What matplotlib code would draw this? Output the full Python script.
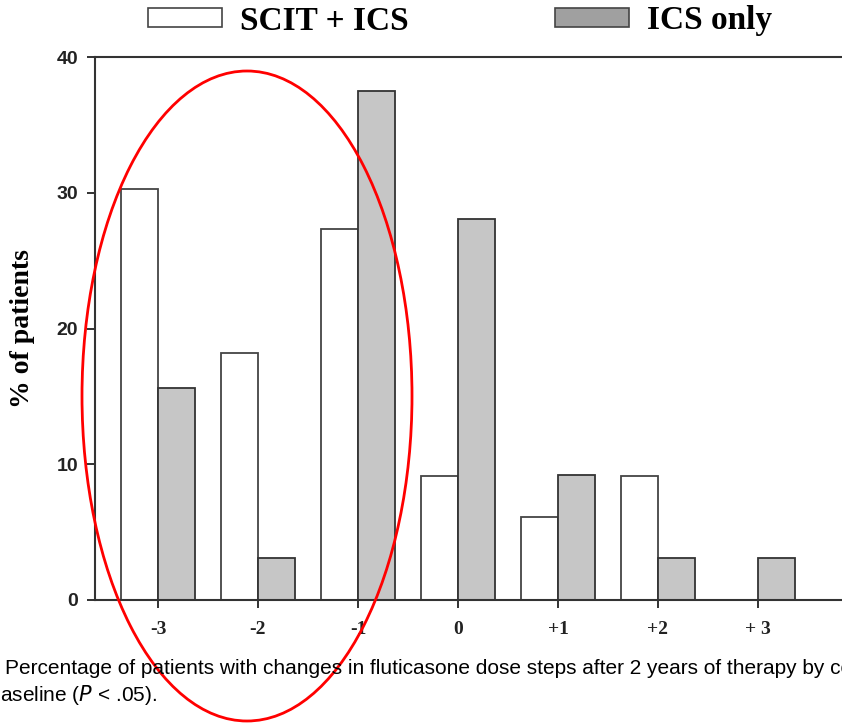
import numpy as np
import matplotlib
matplotlib.use("Agg")
from matplotlib import pyplot as plt
from matplotlib.patches import Patch, Ellipse

steps = ["-3", "-2", "-1", "0", "+1", "+2", "+ 3"]
scit_ics = [30.3, 18.2, 27.3, 9.1, 6.1, 9.1, 0.0]
ics_only = [15.6, 3.1, 37.5, 28.1, 9.2, 3.1, 3.1]

serif = "Liberation Serif"
sans = "Liberation Sans"

fig = plt.figure(figsize=(8.42, 7.24), dpi=100)
ax = fig.add_axes([95 / 842, 1 - 600 / 724, 783 / 842, 543 / 724])

x = np.arange(len(steps))
w = 0.37
ax.bar(x, scit_ics, width=-w, align="edge", color="white", edgecolor="#444444", linewidth=1.3)
ax.bar(x, ics_only, width=w, align="edge", color="#c6c6c6", edgecolor="#333333", linewidth=1.3)

ax.set_xlim(-0.63, 7.2)
ax.set_ylim(0, 40)
ax.set_yticks([0, 10, 20, 30, 40])
ax.set_xticks(x)
ax.set_xticklabels(steps, fontfamily=serif, fontweight="bold", fontsize=14)
for lab in ax.get_yticklabels():
    lab.set_fontfamily(sans)
    lab.set_fontweight("bold")
    lab.set_fontsize(14)
ax.tick_params(axis="both", direction="out", length=6, width=1.3, colors="#222222", pad=6)
ax.tick_params(axis="x", pad=9)
for s in ax.spines.values():
    s.set_linewidth(1.5)
    s.set_color("#333333")
ax.set_ylabel("% of patients", fontfamily=serif, fontweight="bold", fontsize=20)
ax.yaxis.set_label_coords(-60 / 783, (600 - 329) / 543)

handles = [Patch(facecolor="white", edgecolor="#444444", linewidth=1.2, label="SCIT + ICS"),
           Patch(facecolor="#a0a0a0", edgecolor="#444444", linewidth=1.2, label="ICS only")]
fig.legend(handles=handles, loc="center left", bbox_to_anchor=(148 / 842, 1 - 21 / 724), ncol=2,
           frameon=False, prop={"family": serif, "weight": "bold", "size": 24},
           handlelength=2.22, handleheight=0.48, handletextpad=0.54, columnspacing=4.4,
           borderpad=0, borderaxespad=0)

fig.text(5 / 842, 1 - 668 / 724,
         "Percentage of patients with changes in fluticasone dose steps after 2 years of therapy by cor",
         fontfamily=sans, fontsize=15, va="center", ha="left")
fig.text(0, 1 - 695 / 724, "aseline ($\\it{P}$ < .05).",
         fontfamily=sans, fontsize=15, va="center", ha="left")

fig.patches.append(Ellipse((247 / 842, 1 - 396 / 724), 330 / 842, 650 / 724,
                           transform=fig.transFigure, fill=False, edgecolor="red", linewidth=2))

fig.savefig("out.png", dpi=100)
